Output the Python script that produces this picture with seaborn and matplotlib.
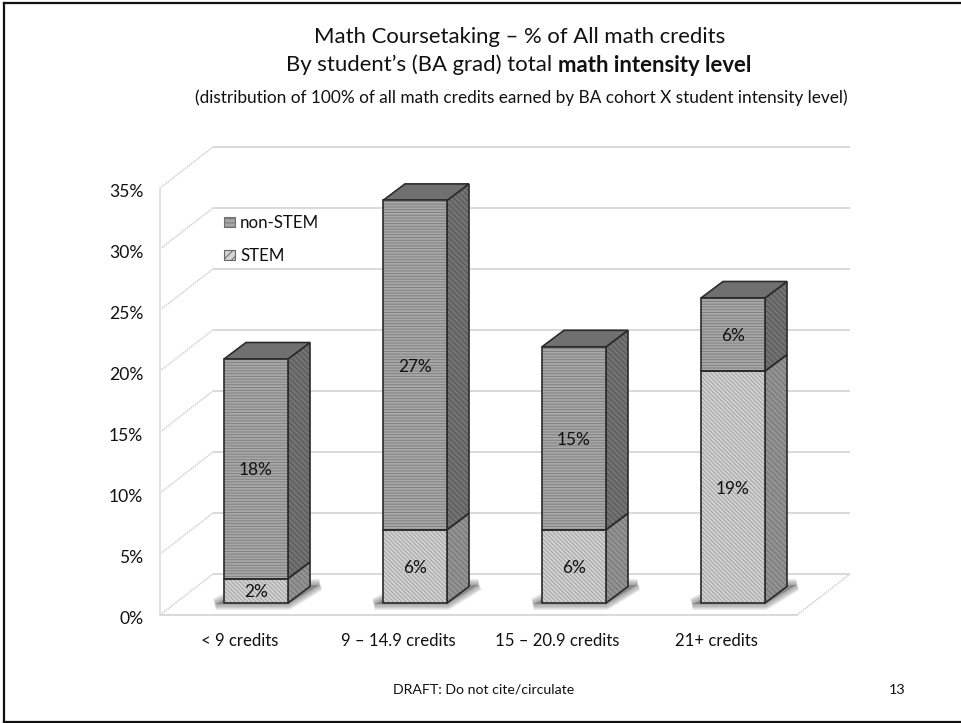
import matplotlib
matplotlib.use("Agg")
import matplotlib.pyplot as plt
import numpy as np
import seaborn as sns
from matplotlib.lines import Line2D
from matplotlib.patches import Patch, Polygon
from matplotlib.transforms import ScaledTranslation

categories = ["< 9 credits", "9 – 14.9 credits", "15 – 20.9 credits", "21+ credits"]
stem = [2, 6, 6, 19]
non_stem = [18, 27, 15, 6]
tick_values = [0, 5, 10, 15, 20, 25, 30, 35]

W, H = 961, 723
sns.set_theme(style="white")
plt.rcParams["font.family"] = ["Lato", "DejaVu Sans"]
plt.rcParams["hatch.linewidth"] = 0.7
TEXT = "#111111"

fig = plt.figure(figsize=(W / 100, H / 100), dpi=100, facecolor="white")


def fx(px):
    return px / W


def fy(py):
    return 1 - py / H


def px_shift(dx, dy):
    # Offset transform expressed in output pixels (y grows upward)
    return ScaledTranslation(dx / fig.dpi, dy / fig.dpi, fig.dpi_scale_trans)


# Axes span the chart floor and walls; one x unit is one category slot.
LEFT, RIGHT, TOP, BOTTOM = 160, 852, 146, 615
ax = fig.add_axes([fx(LEFT), fy(BOTTOM), (RIGHT - LEFT) / W, (BOTTOM - TOP) / H])
ax.patch.set_alpha(0)

PX_X = 159.0            # pixels per category
PX_Y = 12.2             # pixels per percentage point
BAR_W = 64 / PX_X
DX, DY = 22 / PX_X, 16.5 / PX_Y     # bar depth
WALL_DX, WALL_DY = 53 / PX_X, 41 / PX_Y  # floor depth
FRONT = -12 / PX_Y      # front edge of the floor, relative to the bar base
X0 = (LEFT - 256) / PX_X
X1 = (797 - 256) / PX_X

c_front_ns, c_hatch_ns = "#a8a8a8", "#808080"
c_front_s, c_hatch_s = "#d2d2d2", "#a2a2a2"
c_side_ns, c_hatch_side_ns = "#727272", "#565656"
c_side_s, c_hatch_side_s = "#929292", "#757575"
c_top = "#707070"
c_edge = "#2b2b2b"
c_grid = "#d9d9d9"
c_wall = "#d0d0d0"

stem_arr = np.array(stem, float)
non_arr = np.array(non_stem, float)
tops = stem_arr + non_arr
xs = np.arange(len(categories))

# Walls and floor
for v in tick_values:
    yb = v + FRONT + WALL_DY
    ax.plot([X0 + WALL_DX, X0 + WALL_DX + (X1 - X0)], [yb, yb], color=c_grid, lw=1.4, zorder=1,
            solid_capstyle="butt", clip_on=False)
    ax.plot([X0, X0 + WALL_DX], [v + FRONT, yb], color=c_wall, lw=1.1, ls=(0, (1.0, 0.6)),
            zorder=1, clip_on=False)
ax.plot([X0, X0], [FRONT, 35 + FRONT], color="#e2e2e2", lw=1.4, zorder=1, clip_on=False)
ax.plot([X0, X1], [FRONT, FRONT], color=c_grid, lw=1.4, zorder=1, clip_on=False)
ax.plot([X1, X1 + WALL_DX], [FRONT, FRONT + WALL_DY], color=c_wall, lw=1.1,
        ls=(0, (1.0, 0.6)), zorder=1, clip_on=False)

# Soft shadow cast on the floor behind each column
for x in xs:
    l, r = x - BAR_W / 2, x + BAR_W / 2
    pts = [(l - 8 / PX_X, -1 / PX_Y), (r, -1 / PX_Y),
           (r + 31 / PX_X, 18 / PX_Y), (l + 30 / PX_X, 18 / PX_Y)]
    for grow in np.linspace(9, 0.5, 11):
        ax.add_patch(Polygon(pts, closed=True, facecolor="#747474", edgecolor="#747474",
                             lw=grow, alpha=0.08, joinstyle="bevel", zorder=2))


def side_face(x, lo, hi, face, hatch_col):
    r = x + BAR_W / 2
    pts = [(r, lo), (r + DX, lo + DY), (r + DX, hi + DY), (r, hi)]
    ax.add_patch(Polygon(pts, closed=True, facecolor=face, edgecolor=hatch_col, lw=0,
                         hatch="\\\\\\\\\\\\", zorder=3))
    ax.add_patch(Polygon(pts, closed=True, fill=False, edgecolor=c_edge, lw=1.2, zorder=3.5))


# Depth faces of each column
for x, s, t in zip(xs, stem_arr, tops):
    side_face(x, 0, s, c_side_s, c_hatch_side_s)
    side_face(x, s, t, c_side_ns, c_hatch_side_ns)
    l, r = x - BAR_W / 2, x + BAR_W / 2
    top = [(l, t), (r, t), (r + DX, t + DY), (l + DX, t + DY)]
    ax.add_patch(Polygon(top, closed=True, facecolor=c_top, edgecolor=c_edge, lw=1.2, zorder=3.5))

# Front faces: hatched fills, then crisp outlines over them
sns.barplot(x=categories, y=stem_arr, ax=ax, width=BAR_W, saturation=1, color=c_front_s,
            edgecolor=c_hatch_s, linewidth=0, hatch="\\" * 8, zorder=4)
sns.barplot(x=categories, y=non_arr, bottom=stem_arr, ax=ax, width=BAR_W, saturation=1,
            color=c_front_ns, edgecolor=c_hatch_ns, linewidth=0, hatch="-" * 6, zorder=4)
sns.barplot(x=categories, y=stem_arr, ax=ax, width=BAR_W, saturation=1, color=c_edge,
            fill=False, linewidth=1.2, zorder=5)
sns.barplot(x=categories, y=non_arr, bottom=stem_arr, ax=ax, width=BAR_W, saturation=1,
            color=c_edge, fill=False, linewidth=1.2, zorder=5)

value_labels = (
    ax.bar_label(ax.containers[0], labels=[f"{v}%" for v in stem], label_type="center",
                 fontsize=12.4, color=TEXT, zorder=6)
    + ax.bar_label(ax.containers[1], labels=[f"{v}%" for v in non_stem], label_type="center",
                   fontsize=12.4, color=TEXT, zorder=6)
)
for label in value_labels:
    label.xyann = (0, -1.2)

ax.set_xlim(X0, (RIGHT - 256) / PX_X)
ax.set_ylim(FRONT, (603 - TOP) / PX_Y)
ax.set_yticks([v + FRONT for v in tick_values])
ax.set_yticklabels([f"{v}%" for v in tick_values], fontsize=12.6, color=TEXT)
ax.set_xticks(xs)
ax.set_xticklabels(categories, fontsize=12.1, color=TEXT)
ax.set_xticks(X0 + np.arange(5), minor=True)
ax.tick_params(axis="y", length=3, width=0.8, color="#e4e4e4", pad=9)
ax.tick_params(axis="x", which="major", length=0, pad=13)
ax.tick_params(axis="x", which="minor", length=3, width=0.8, color="#e4e4e4")
for tick_label in ax.get_yticklabels():
    tick_label.set_transform(tick_label.get_transform() + px_shift(0, -2.5))
# Category captions sit on the front edge of the floor, left of the column fronts
for tick_label in ax.get_xticklabels():
    tick_label.set_transform(tick_label.get_transform() + px_shift(-16.5, 0))
ax.set_xlabel("")
ax.set_ylabel("")
sns.despine(ax=ax, left=True, bottom=True)

handles = [Patch(facecolor=c_front_ns, edgecolor="#707070", hatch="-" * 4, lw=0.8),
           Patch(facecolor=c_front_s, edgecolor="#666666", hatch="/" * 4, lw=0.8)]
ax.legend(handles, ["non-STEM", "STEM"], frameon=False, fontsize=12.2, labelcolor=TEXT,
          handlelength=0.66, handleheight=0.6, handletextpad=0.28, labelspacing=1.0,
          borderpad=0, borderaxespad=0, loc="upper left",
          bbox_to_anchor=(fx(224), fy(215)), bbox_transform=fig.transFigure)

# Titles; the second line mixes regular and bold runs
fig.text(fx(519.5), fy(37), "Math Coursetaking – % of All math credits", ha="center", va="center",
         fontsize=15.9, color=TEXT)
line_reg = fig.text(fx(286), fy(65), "By student’s (BA grad) total ", ha="left", va="center",
                    fontsize=15.9, color=TEXT)
renderer = fig.canvas.get_renderer()
reg_w = line_reg.get_window_extent(renderer).width
fig.text(fx(286 + reg_w), fy(65), "math intensity level", ha="left", va="center", fontsize=15.9,
         fontweight="bold", color=TEXT)
fig.text(fx(521.5), fy(98), "(distribution of 100% of all math credits earned by BA cohort X student intensity level)",
         ha="center", va="center", fontsize=12.4, color=TEXT)
fig.text(fx(484), fy(690), "DRAFT: Do not cite/circulate", ha="center", va="center",
         fontsize=10.2, color=TEXT)
fig.text(fx(897.5), fy(690), "13", ha="center", va="center", fontsize=10.4, color=TEXT)

# Slide border: open on the right-hand side
for xa, ya, xb, yb in [(4, 3, W, 3), (4, 3, 4, 722), (4, 722, W, 722)]:
    fig.add_artist(Line2D([fx(xa), fx(xb)], [fy(ya), fy(yb)], color="#111111", lw=1.6,
                          solid_capstyle="projecting"))

fig.savefig("out.png", dpi=100, facecolor="white")
